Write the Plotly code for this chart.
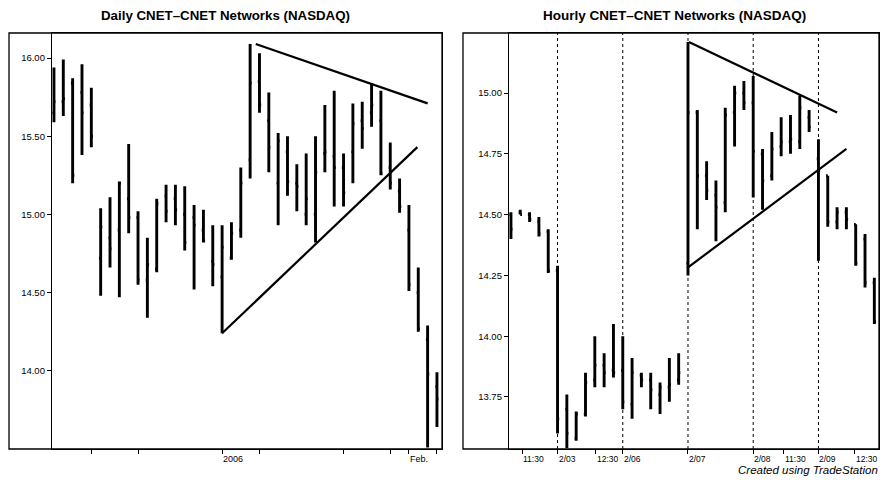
import plotly.graph_objects as go

# ---------------- Daily data (bar index 0..41) ----------------
daily_open  = [15.65, 15.72, 15.84, 15.78, 15.70, 14.72, 14.85, 14.90, 15.10, 14.98,
               14.58, 14.65, 15.12, 15.10, 15.00, 14.98, 14.90, 14.70, 14.60, 14.72,
               14.90, 15.35, 15.85, 15.60, 15.20, 15.40, 15.20, 15.00, 15.00, 15.39,
               15.37, 15.30, 15.40, 15.60, 15.65, 15.60, 15.30, 15.15, 14.90, 14.50,
               14.20, 13.90]
daily_high  = [15.94, 15.99, 15.87, 15.96, 15.81, 15.04, 15.11, 15.21, 15.45, 15.02,
               14.85, 15.10, 15.19, 15.19, 15.18, 15.06, 15.03, 14.93, 14.93, 14.95,
               15.30, 16.09, 16.03, 15.78, 15.52, 15.50, 15.32, 15.39, 15.50, 15.70,
               15.79, 15.39, 15.71, 15.72, 15.84, 15.79, 15.46, 15.23, 15.06, 14.66,
               14.29, 13.99]
daily_low   = [15.59, 15.63, 15.20, 15.38, 15.43, 14.48, 14.66, 14.47, 14.88, 14.55,
               14.34, 14.63, 14.95, 14.93, 14.77, 14.52, 14.82, 14.54, 14.24, 14.71,
               14.85, 15.23, 15.65, 15.27, 14.93, 15.12, 15.02, 14.93, 14.82, 15.27,
               15.05, 15.05, 15.20, 15.42, 15.56, 15.25, 15.16, 15.01, 14.51, 14.25,
               13.51, 13.64]
daily_close = [15.72, 15.74, 15.25, 15.65, 15.50, 14.92, 14.78, 15.20, 14.98, 14.58,
               14.68, 15.07, 15.02, 15.03, 14.82, 14.93, 14.83, 14.68, 14.79, 14.88,
               15.20, 15.84, 15.70, 15.43, 15.47, 15.21, 15.18, 15.10, 15.27, 15.40,
               15.30, 15.14, 15.58, 15.55, 15.70, 15.26, 15.20, 15.05, 14.55, 14.27,
               13.98, 13.82]
daily_x = list(range(len(daily_open)))
daily_tick_pos = [4, 9, 18, 22, 31, 36, 38, 41]
daily_label_pos = [18, 38]
daily_label_text = ["2006", "Feb."]
daily_yticks = [14.0, 14.5, 15.0, 15.5, 16.0]
daily_upper_x, daily_upper_y = [21.6, 40.0], [16.09, 15.71]
daily_lower_x, daily_lower_y = [18.0, 38.9], [14.24, 15.43]

# ---------------- Hourly data (bar index 0..39) ----------------
hourly_open  = [14.50, 14.51, 14.50, 14.47, 14.43, 14.27, 13.70, 13.58, 13.68, 13.82,
                13.88, 13.86, 13.86, 13.72, 13.84, 13.82, 13.76, 13.79, 13.82, 14.30,
                14.92, 14.66, 14.58, 14.55, 14.92, 15.00, 14.96, 14.75, 14.66, 14.78,
                14.80, 14.80, 14.90, 14.73, 14.66, 14.47, 14.51, 14.46, 14.40, 14.22]
hourly_high  = [14.51, 14.52, 14.51, 14.49, 14.44, 14.29, 13.76, 13.69, 13.85, 14.00,
                13.93, 14.05, 14.00, 13.91, 13.85, 13.85, 13.81, 13.91, 13.93, 15.21,
                14.93, 14.72, 14.64, 14.94, 15.03, 15.05, 15.07, 14.77, 14.84, 14.90,
                14.91, 14.99, 14.93, 14.81, 14.66, 14.53, 14.53, 14.46, 14.42, 14.24]
hourly_low   = [14.40, 14.50, 14.47, 14.41, 14.26, 13.60, 13.54, 13.57, 13.67, 13.79,
                13.79, 13.83, 13.70, 13.66, 13.79, 13.70, 13.68, 13.73, 13.80, 14.25,
                14.44, 14.56, 14.39, 14.51, 14.78, 14.93, 14.57, 14.52, 14.64, 14.74,
                14.75, 14.77, 14.84, 14.31, 14.45, 14.44, 14.44, 14.29, 14.20, 14.05]
hourly_close = [14.44, 14.50, 14.48, 14.42, 14.27, 13.66, 13.60, 13.68, 13.81, 13.88,
                13.85, 13.85, 13.73, 13.85, 13.82, 13.78, 13.79, 13.80, 13.85, 14.92,
                14.66, 14.60, 14.53, 14.91, 15.00, 14.96, 14.76, 14.64, 14.77, 14.80,
                14.81, 14.94, 14.86, 14.68, 14.47, 14.51, 14.48, 14.30, 14.22, 14.06]
hourly_x = list(range(len(hourly_open)))
hourly_day_starts = [5, 12, 19, 26, 33]
hourly_label_pos = [1.2, 5, 9.1, 12, 19, 26, 29.3, 33, 36.9]
hourly_label_text = ["11:30", "2/03", "12:30", "2/06", "2/07", "2/08", "11:30", "2/09", "12:30"]
hourly_yticks = [13.75, 14.0, 14.25, 14.5, 14.75, 15.0]
hourly_upper_x, hourly_upper_y = [19.1, 35.0], [15.21, 14.92]
hourly_lower_x, hourly_lower_y = [18.9, 36.0], [14.28, 14.77]

# the page body adds an 8px margin, so the figure is kept inside the visible area
W, H = 872, 469
FONT = "Liberation Sans, Arial, sans-serif"

fig = go.Figure()
bar_line = dict(color="black", width=2.9)
fig.add_trace(go.Ohlc(x=daily_x, open=daily_open, high=daily_high, low=daily_low,
                      close=daily_close, xaxis="x", yaxis="y", tickwidth=0.18,
                      increasing=dict(line=bar_line), decreasing=dict(line=bar_line),
                      showlegend=False, hoverinfo="skip"))
fig.add_trace(go.Ohlc(x=hourly_x, open=hourly_open, high=hourly_high, low=hourly_low,
                      close=hourly_close, xaxis="x2", yaxis="y2", tickwidth=0.18,
                      increasing=dict(line=bar_line), decreasing=dict(line=bar_line),
                      showlegend=False, hoverinfo="skip"))

tl = dict(color="black", width=2.2)
for xs, ys, xa, ya in [(daily_upper_x, daily_upper_y, "x", "y"),
                       (daily_lower_x, daily_lower_y, "x", "y"),
                       (hourly_upper_x, hourly_upper_y, "x2", "y2"),
                       (hourly_lower_x, hourly_lower_y, "x2", "y2")]:
    fig.add_trace(go.Scatter(x=xs, y=ys, mode="lines", line=tl, xaxis=xa, yaxis=ya,
                             showlegend=False, hoverinfo="skip"))

axis_common = dict(showline=True, linecolor="black", linewidth=1.3, mirror=True,
                   showgrid=False, zeroline=False, ticks="outside", ticklen=4,
                   tickcolor="black", tickfont=dict(family=FONT, size=9.5, color="black"))

fig.update_layout(
    width=W, height=H, margin=dict(l=0, r=0, t=25, b=28),
    paper_bgcolor="white", plot_bgcolor="white",
    xaxis=dict(domain=[44 / W, 434 / W], range=[-0.21, 41.54], tickvals=daily_tick_pos,
               ticktext=[""] * len(daily_tick_pos), rangeslider=dict(visible=False),
               anchor="y", **axis_common),
    yaxis=dict(domain=[0, 1], range=[13.50, 16.16], tickvals=daily_yticks,
               tickformat=".2f", anchor="x", **axis_common),
    xaxis2=dict(domain=[501 / W, 871 / W], range=[-0.21, 39.5], tickvals=hourly_label_pos,
                ticktext=[""] * len(hourly_label_pos), rangeslider=dict(visible=False),
                anchor="y2", **axis_common),
    yaxis2=dict(domain=[0, 1], range=[13.536, 15.247], tickvals=hourly_yticks,
                tickformat=".2f", anchor="x2", **axis_common),
)

shapes = []
# outer frames of the two panels
shapes.append(dict(type="rect", xref="paper", yref="paper", x0=1 / W, x1=434 / W,
                   y0=0, y1=1, line=dict(color="black", width=1.3)))
shapes.append(dict(type="rect", xref="paper", yref="paper", x0=455 / W, x1=871 / W,
                   y0=0, y1=1, line=dict(color="black", width=1.3)))
# dotted day separators on hourly chart
for d in hourly_day_starts:
    shapes.append(dict(type="line", xref="x2", yref="y2 domain", x0=d, x1=d, y0=0, y1=1,
                       line=dict(color="black", width=1, dash="dot"), layer="below"))
fig.update_layout(shapes=shapes)

ann = []
for p, t in zip(daily_label_pos, daily_label_text):
    ann.append(dict(x=p, y=0, xref="x", yref="y domain", text=t, showarrow=False,
                    xanchor="left", yanchor="top", yshift=-4, borderpad=0,
                    font=dict(family=FONT, size=9, color="black")))
for p, t in zip(hourly_label_pos, hourly_label_text):
    ann.append(dict(x=p, y=0, xref="x2", yref="y2 domain", text=t, showarrow=False,
                    xanchor="left", yanchor="top", yshift=-4, borderpad=0,
                    font=dict(family=FONT, size=8.5, color="black")))
ann.append(dict(x=217 / W, y=1, xref="paper", yref="paper", yshift=18, showarrow=False,
                text="<b>Daily CNET–CNET Networks (NASDAQ)</b>", xanchor="center",
                yanchor="middle", font=dict(family=FONT, size=13.3, color="black")))
ann.append(dict(x=666 / W, y=1, xref="paper", yref="paper", yshift=18, showarrow=False,
                text="<b>Hourly CNET–CNET Networks (NASDAQ)</b>", xanchor="center",
                yanchor="middle", font=dict(family=FONT, size=13.5, color="black")))
ann.append(dict(x=871 / W, y=0, xref="paper", yref="paper", yshift=-28, showarrow=False,
                text="<i>Created using TradeStation</i>", xanchor="right", borderpad=0,
                yanchor="bottom", font=dict(family=FONT, size=11.5, color="black")))
fig.update_layout(annotations=ann)

fig.write_html("out.html")
